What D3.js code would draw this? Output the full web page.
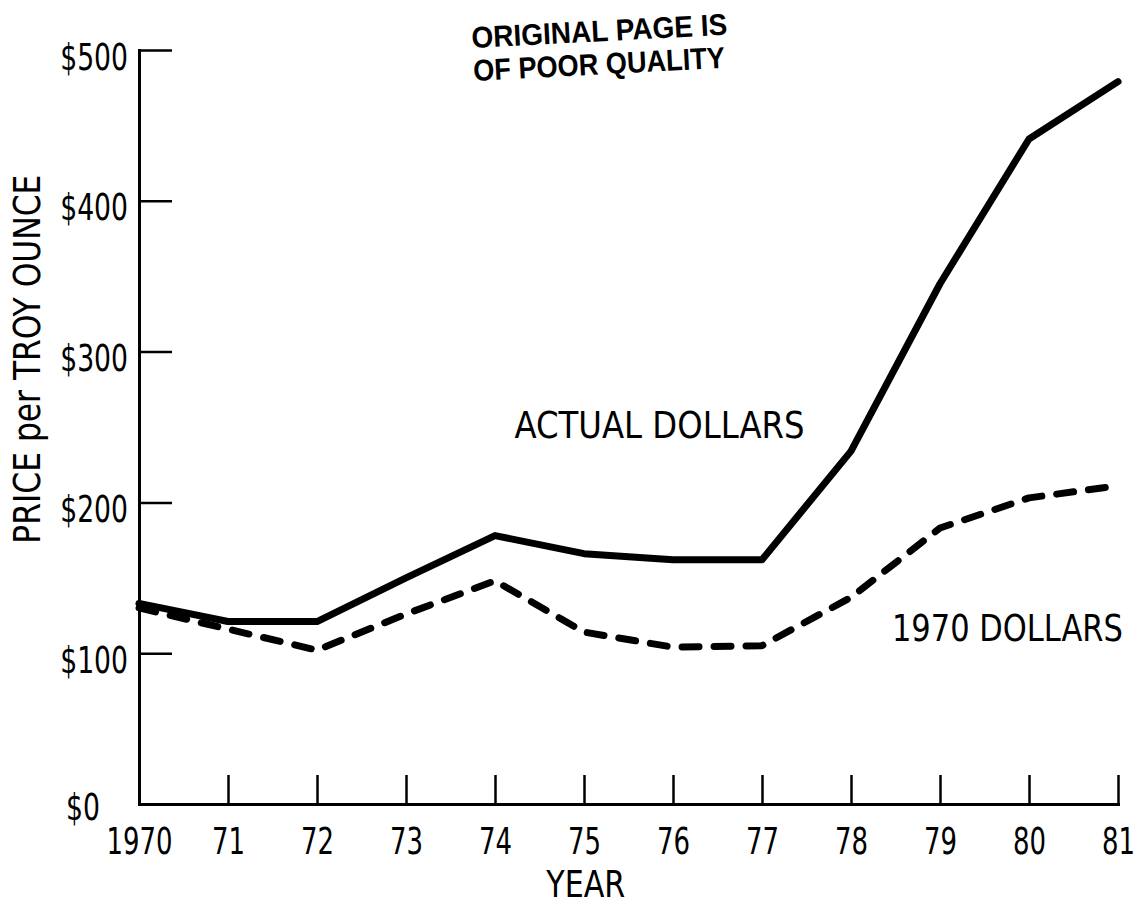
<!DOCTYPE html>
<html>
<head>
<meta charset="utf-8">
<script src="https://cdn.jsdelivr.net/npm/d3@7"></script>
<style>
  html, body { margin: 0; padding: 0; background: #fff; }
  svg { display: block; }
  text { font-family: "Liberation Sans Narrow", "DejaVu Sans Condensed", "Arial Narrow", sans-serif; fill: #000; }
</style>
</head>
<body>
<svg id="chart"></svg>
<script>
// Platinum price per troy ounce
const years = [1970, 1971, 1972, 1973, 1974, 1975, 1976, 1977, 1978, 1979, 1980, 1981];
const yearLabels = ["1970", "71", "72", "73", "74", "75", "76", "77", "78", "79", "80", "81"];
const actualDollars = [133, 121, 121, 150, 178, 166, 162, 162, 234, 345, 441, 479];
const constantDollars = [130, 116, 102, 126, 148, 114, 104, 105, 137, 183, 203, 211];
const priceTicks = [0, 100, 200, 300, 400, 500];
const priceLabels = ["$0", "$100", "$200", "$300", "$400", "$500"];

// label anchors in data units (year, price)
const seriesLabels = [
  { text: "ACTUAL DOLLARS", year: 1974.22, price: 243, len: 290 },
  { text: "1970 DOLLARS", year: 1978.46, price: 108, len: 231 },
];

const width = 1141;
const height = 905;
const marginTop = 50;
const marginRight = 23;
const marginBottom = 101;
const marginLeft = 139;

const x = d3.scaleLinear([1970, 1981], [marginLeft, width - marginRight]);
const y = d3.scaleLinear([0, 500], [height - marginBottom, marginTop]);

const svg = d3.select("svg#chart")
  .attr("width", width)
  .attr("height", height)
  .attr("viewBox", [0, 0, width, height]);

// squeeze the lettering horizontally, the scan uses a narrow stencil face
function narrow(texts, sx) {
  texts.each(function () {
    const t = d3.select(this);
    const x0 = +t.attr("x") || 0;
    t.attr("x", x0 / sx).attr("transform", `scale(${sx},1)`);
  });
}

// x axis, ticks point up into the plot
svg.append("g")
  .attr("transform", `translate(0,${height - marginBottom})`)
  .call(d3.axisBottom(x)
    .tickValues(years)
    .tickFormat((d, i) => yearLabels[i])
    .tickSize(-29)
    .tickSizeOuter(0)
    .tickPadding(23))
  .call(g => g.select(".domain").attr("stroke-width", 3).attr("stroke-linecap", "square"))
  .call(g => g.selectAll(".tick line").attr("stroke-width", 2.5))
  .call(g => g.selectAll(".tick text").attr("font-size", 38).attr("fill", "#000"))
  .call(g => narrow(g.selectAll(".tick text"), 0.76));

// y axis, ticks point right into the plot
svg.append("g")
  .attr("transform", `translate(${marginLeft},0)`)
  .call(d3.axisLeft(y)
    .tickValues(priceTicks)
    .tickFormat((d, i) => priceLabels[i])
    .tickSize(-33)
    .tickSizeOuter(0)
    .tickPadding(11))
  .call(g => g.select(".domain").attr("stroke-width", 3).attr("stroke-linecap", "square"))
  .call(g => g.selectAll(".tick line").attr("stroke-width", 2.5))
  .call(g => g.selectAll(".tick text").attr("font-size", 38).attr("dy", "0.5em").attr("fill", "#000"))
  .call(g => g.selectAll(".tick").filter(d => d === 0).select("text").attr("x", -39).attr("dy", "0.4em"))
  .call(g => narrow(g.selectAll(".tick text"), 0.78));

// axis titles
svg.append("text")
  .attr("x", x(1975.02))
  .attr("y", height - 8)
  .attr("text-anchor", "middle")
  .attr("font-size", 37)
  .attr("textLength", 79)
  .attr("lengthAdjust", "spacingAndGlyphs")
  .text("YEAR");

svg.append("text")
  .attr("transform", `translate(40,${y(295)}) rotate(-90)`)
  .attr("text-anchor", "middle")
  .attr("font-size", 38)
  .attr("textLength", 369)
  .attr("lengthAdjust", "spacingAndGlyphs")
  .text("PRICE per TROY OUNCE");

// the two series
const line = d3.line()
  .x((d, i) => x(years[i]))
  .y(d => y(d));

svg.append("path")
  .attr("fill", "none")
  .attr("stroke", "#000")
  .attr("stroke-width", 7)
  .attr("stroke-linejoin", "round")
  .attr("stroke-linecap", "round")
  .attr("d", line(actualDollars));

svg.append("path")
  .attr("fill", "none")
  .attr("stroke", "#000")
  .attr("stroke-width", 7)
  .attr("stroke-linejoin", "round")
  .attr("stroke-linecap", "round")
  .attr("stroke-dasharray", "17,15")
  .attr("d", line(constantDollars));

svg.append("g")
  .selectAll("text")
  .data(seriesLabels)
  .join("text")
  .attr("x", d => x(d.year))
  .attr("y", d => y(d.price))
  .attr("font-size", 38)
  .attr("textLength", d => d.len)
  .attr("lengthAdjust", "spacingAndGlyphs")
  .text(d => d.text);

// "poor quality" stamp at the top of the scan
const stamp = svg.append("g")
  .attr("transform", "translate(472,48) rotate(-3)")
  .attr("fill", "#111");
stamp.append("text")
  .attr("style", "font-family: 'Liberation Sans', Arial, sans-serif; font-weight: bold;")
  .attr("font-size", 30)
  .attr("textLength", 256)
  .attr("lengthAdjust", "spacingAndGlyphs")
  .text("ORIGINAL PAGE IS");
stamp.append("text")
  .attr("y", 33)
  .attr("style", "font-family: 'Liberation Sans', Arial, sans-serif; font-weight: bold;")
  .attr("font-size", 30)
  .attr("textLength", 252)
  .attr("lengthAdjust", "spacingAndGlyphs")
  .text("OF POOR QUALITY");
</script>
</body>
</html>
